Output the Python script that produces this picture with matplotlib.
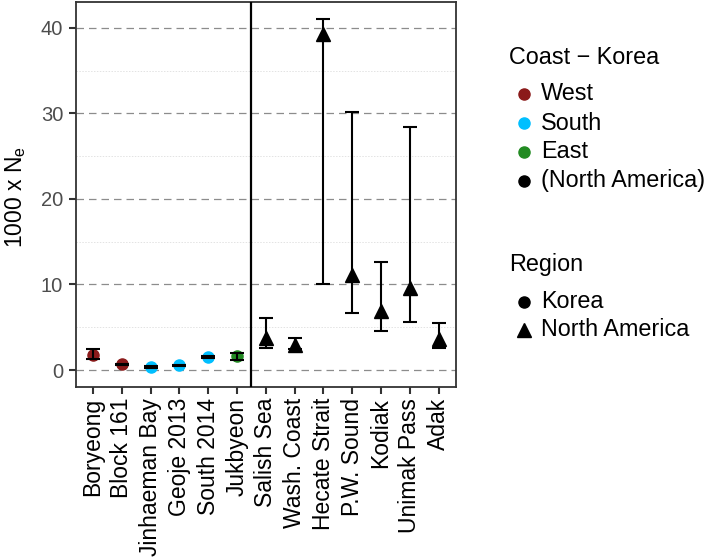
import matplotlib
matplotlib.use("Agg")
import matplotlib.pyplot as plt
from matplotlib.lines import Line2D
import numpy as np

plt.rcParams['font.family'] = ['Liberation Sans', 'DejaVu Sans']

sites = ["Boryeong", "Block 161", "Jinhaeman Bay", "Geoje 2013", "South 2014", "Jukbyeon",
         "Salish Sea", "Wash. Coast", "Hecate Strait", "P.W. Sound", "Kodiak", "Unimak Pass", "Adak"]
coast = ["West", "West", "South", "South", "South", "East",
         "(North America)", "(North America)", "(North America)", "(North America)",
         "(North America)", "(North America)", "(North America)"]
region = ["Korea"] * 6 + ["North America"] * 7
ne = [1.76, 0.65, 0.35, 0.55, 1.56, 1.6, 3.75, 2.95, 39.3, 11.1, 6.9, 9.6, 3.65]
lower = [1.29, 0.55, 0.28, 0.48, 1.45, 1.2, 2.53, 2.5, 10.0, 6.7, 4.6, 5.66, 2.6]
upper = [2.46, 0.75, 0.42, 0.62, 1.68, 2.0, 6.13, 3.79, 41.0, 30.2, 12.6, 28.4, 5.5]

coast_levels = ["West", "South", "East", "(North America)"]
coast_colors = {"West": "#8B1A1A", "South": "#00BFFF", "East": "#228B22", "(North America)": "#000000"}
region_levels = ["Korea", "North America"]
region_markers = {"Korea": "o", "North America": "^"}

W, H = 709, 560
fig = plt.figure(figsize=(W / 100, H / 100), dpi=100)
L, R, T, B = 75.7, 456, 2.3, 386.7
ax = fig.add_axes([L / W, 1 - B / H, (R - L) / W, (B - T) / H])

x = np.arange(1, len(sites) + 1)

for sp in ax.spines.values():
    sp.set_color("#333333")
    sp.set_linewidth(1.3)

ax.set_ylim(-1.95, 42.97)
ax.set_xlim(0.4, len(sites) + 0.6)
ax.set_yticks([0, 10, 20, 30, 40])
ax.set_yticks([5, 15, 25, 35], minor=True)
ax.grid(which="major", axis="y", color="#8c8c8c", linestyle=(0, (6, 4)), linewidth=0.9)
ax.grid(which="minor", axis="y", color="#e3e3e3", linestyle=(0, (1.5, 1.5)), linewidth=0.7)
ax.tick_params(axis="y", which="minor", length=0)
ax.set_axisbelow(True)

for i in range(len(sites)):
    is_k = region[i] == "Korea"
    ax.plot(x[i], ne[i], marker=region_markers[region[i]], color=coast_colors[coast[i]],
            markersize=8 if is_k else 10.5, linestyle="none", zorder=3)
ax.errorbar(x, ne, yerr=[np.array(ne) - np.array(lower), np.array(upper) - np.array(ne)],
            fmt="none", ecolor="black", elinewidth=1.5, capsize=4.8, capthick=1.5, zorder=4)

ax.axvline(6.5, color="black", linewidth=1.6, zorder=5)

ax.set_xticks(x)
ax.set_xticklabels(sites, rotation=90, fontsize=16.5, color="black")
ax.tick_params(axis="both", which="major", length=5, width=1.5, color="#333333", pad=3)
ax.tick_params(axis="y", labelcolor="#4d4d4d", labelsize=14.5, pad=4)

fig.text(16 / W, 1 - 197 / H, "1000 x N$_\\mathregular{e}$", fontsize=16.5,
         rotation=90, ha="center", va="center")

# Legends (manual)
lx_marker = 524 / W
lx_text = 541 / W
fs = 16.8
fig.text(509 / W, 1 - 58 / H, "Coast \u2212 Korea", fontsize=fs, va="center", ha="left")
ys = [94, 123, 152, 181]
for lev, yy in zip(coast_levels, ys):
    fig.add_artist(Line2D([lx_marker], [1 - yy / H], marker="o", color=coast_colors[lev],
                          markersize=8, linestyle="none", transform=fig.transFigure))
    fig.text(lx_text, 1 - yy / H, lev, fontsize=fs, va="center", ha="left")

fig.text(509 / W, 1 - 265 / H, "Region", fontsize=fs, va="center", ha="left")
ys2 = [302, 330]
for lev, yy in zip(region_levels, ys2):
    fig.add_artist(Line2D([lx_marker], [1 - yy / H], marker=region_markers[lev], color="black",
                          markersize=8 if lev == "Korea" else 10, linestyle="none",
                          transform=fig.transFigure))
    fig.text(lx_text, 1 - yy / H, lev, fontsize=fs, va="center", ha="left")

fig.savefig("out.png", dpi=100)
